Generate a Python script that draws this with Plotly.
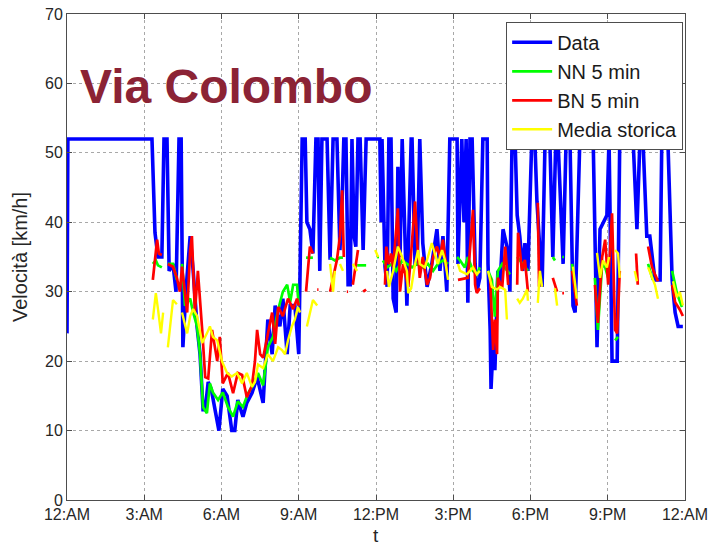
import pandas as pd
import plotly.graph_objects as go

# Speeds on Via Colombo over one day: (minutes after midnight, km/h).
# None splits a series where no estimate was produced.
DATA = [(0, 24), (2, 52), (198, 52), (205, 38.5), (212, 35), (221, 35), (226, 52), (233, 52),
        (238, 33), (247, 34), (254, 30), (261, 52), (266, 52), (270, 22), (277, 30), (287, 38),
        (294, 33), (303, 25), (310, 21), (317, 13), (322, 13), (329, 17), (336, 16), (345, 13),
        (354, 10), (363, 16), (373, 15), (384, 10), (391, 10), (398, 14.4), (410, 12), (419, 14),
        (431, 15.4), (443, 17.7), (457, 14), (468, 26), (478, 21), (485, 28), (496, 25), (503, 29),
        (513, 21), (520, 28), (531, 28), (540, 21), (548, 52), (555, 52), (559, 40), (566, 39),
        (573, 35.5), (580, 52), (585, 52), (589, 33), (594, 52), (606, 52), (613, 34.6), (620, 52),
        (629, 52), (636, 36), (641, 43), (645, 52), (650, 52), (655, 31), (660, 31), (664, 52),
        (669, 38), (673, 36.5), (678, 52), (683, 52), (690, 36), (697, 52), (729, 52), (732, 40),
        (734, 52), (741, 33.6), (746, 30.7), (750, 52), (755, 52), (760, 29), (767, 27), (771, 48),
        (776, 35), (781, 52), (792, 28), (802, 52), (804, 52), (811, 34), (816, 34), (822, 52),
        (829, 37), (839, 30.7), (850, 34), (862, 39), (869, 33), (876, 38), (885, 30), (892, 52),
        (909, 52), (911, 34), (920, 52), (925, 40), (930, 52), (934, 28.4), (939, 52), (944, 52),
        (951, 34), (955, 30), (962, 32), (969, 52), (979, 52), (981, 34), (986, 24.5), (988, 16),
        (993, 22.6), (997, 18.7), (1004, 33), (1009, 31), (1016, 39), (1025, 36.5), (1032, 30),
        (1037, 52), (1044, 52), (1049, 41), (1055, 38), (1062, 33), (1067, 37), (1074, 33),
        (1083, 52), (1090, 52), (1095, 43), (1107, 30.7), (1114, 52), (1125, 52), (1132, 35),
        (1139, 52), (1144, 52), (1156, 34), (1163, 52), (1172, 52), (1179, 28), (1184, 27),
        (1195, 52), (1226, 52), (1235, 22), (1242, 39), (1249, 40), (1258, 41), (1263, 52),
        (1270, 20), (1282, 20), (1288, 52), (1319, 52), (1328, 39), (1335, 52), (1342, 52),
        (1351, 38), (1358, 38), (1370, 31.7), (1382, 31.7), (1386, 52), (1400, 52), (1410, 31.7),
        (1417, 27), (1424, 25), (1435, 25)]

NN_5MIN = [(200, 34), (207, 34.5), (212, 33.8), (221, 33.5), None,
           (235, 34), (247, 34), (256, 31.7), None,
           (268, 34), (275, 28), (287, 29), (294, 27), (303, 25), (310, 21), (317, 13.4),
           (326, 12.5), (333, 16.8), (340, 15.5), (352, 14.4), (363, 15.5), (375, 13.4), (387, 12),
           (398, 14.2), (410, 13.4), (422, 15.4), (433, 16.5), (445, 18.3), (457, 16.5), (468, 22),
           (480, 23.5), (492, 27.4), (503, 30), (513, 31), (520, 28.5), (527, 31), (536, 31),
           (540, 28), None,
           (557, 34.9), (566, 34.9), (573, 34.9), None,
           (613, 34.9), (624, 34.5), (636, 34.9), (643, 34.9), None,
           (676, 33.8), (683, 33.8), (690, 33.8), (697, 33.8), None,
           (722, 35), (727, 35), None,
           (736, 34.5), (746, 33.5), (757, 34), (767, 33), (781, 34.5), (792, 34), (804, 33.5),
           (816, 34), (829, 33.5), (841, 34), (853, 33), (864, 34), (876, 34.5), (888, 34), None,
           (909, 35), (916, 34.5), (927, 33.5), (934, 35), (946, 33), (955, 32.5), (962, 33.5), None,
           (981, 33), (990, 31.7), (997, 26.4), (1004, 33), (1014, 34), (1025, 33), (1032, 32.5), None,
           (1049, 35), (1055, 34.5), (1067, 33.5), (1074, 33), None,
           (1098, 35), (1102, 35), None,
           (1132, 35), (1137, 34.5), None,
           (1154, 35), (1158, 35), None,
           (1177, 34), (1184, 30), None,
           (1230, 32), (1237, 24.5), (1247, 34), (1254, 33.5), (1261, 32), None,
           (1277, 23), (1284, 23.5), None,
           (1354, 34), (1365, 31.7), None,
           (1410, 33), (1421, 29.8), (1433, 27.8)]

BN_5MIN = [(200, 31.7), (210, 37.5), (214, 35.5), (221, 35.3), None,
           (235, 34), (247, 33.6), (256, 32), (263, 30), (268, 33.6), (280, 27), (287, 36),
           (291, 38), (298, 27), (305, 33), (315, 24.5), (322, 17.7), (329, 17.5), (338, 24.5),
           (350, 20), (356, 23.5), (363, 16.8), (375, 18.3), (387, 15.4), (398, 18.3), (408, 18),
           (419, 14.8), (431, 16.5), (438, 20), (443, 24.5), (450, 21), (457, 20.5), (466, 23.5),
           (478, 27), (485, 22.5), (492, 27.8), (503, 26.5), (515, 29), (527, 27.5), (536, 29),
           (540, 28), None,
           (557, 30), (566, 36.5), (573, 35.5), None,
           (583, 30.3), (586, 30.3), None,
           (613, 30), (629, 34.6), (636, 38), (641, 44.6), (645, 35), None,
           (652, 30), (655, 30), None,
           (666, 31), (671, 33), (678, 36), None,
           (690, 30), (697, 30.3), None,
           (741, 31), (744, 36.5), (750, 34), (755, 35.5), (760, 33.5), (771, 42), (776, 30),
           (783, 34), (795, 30.7), (800, 34), (811, 43), (816, 37), (822, 32), (829, 35), (839, 31),
           (846, 32), (853, 35), (862, 36.5), (869, 35), (876, 37.5), (885, 33), None,
           (911, 31.7), (934, 32), (946, 41.8), (951, 31), (955, 29.8), (962, 30.5), None,
           (986, 32), (990, 24.5), (993, 21.6), (997, 26), (1002, 21), (1004, 32), (1014, 30.5),
           (1021, 36.5), (1028, 31), None,
           (1049, 31), (1051, 38.5), (1060, 33), (1067, 34.6), (1074, 30), None,
           (1097, 42.8), (1100, 30.7), None,
           (1132, 32), (1142, 30), None,
           (1154, 29.8), (1158, 29.8), None,
           (1177, 33), (1188, 28), None,
           (1230, 31), (1237, 25.5), (1247, 35), (1254, 37.5), (1261, 31), (1270, 41.3),
           (1277, 24.5), (1282, 24), (1288, 33), None,
           (1326, 35.5), (1330, 31), None,
           (1354, 36.5), (1363, 33.6), (1370, 32.5), (1377, 31.5), None,
           (1410, 31), (1417, 28.5), (1428, 27.4), (1435, 26.5)]

MEDIA_STORICA = [(200, 26), (207, 29.8), (212, 27.5), (219, 24), (224, 27), None,
                 (235, 22), (245, 27.8), (247, 28.8), (256, 28.2), None,
                 (268, 27), (280, 24), (287, 26.5), (294, 27.5), (303, 26.5), (315, 22.6),
                 (326, 24), (333, 25), (340, 23.5), (350, 23), (361, 20), (373, 18.3), (384, 17.8),
                 (396, 18.3), (408, 16.8), (419, 18.3), (431, 16.3), (438, 17), (445, 19.5),
                 (457, 19), (468, 21), (480, 20), (492, 22), (501, 21.6), (508, 21), (515, 23),
                 (524, 25), (531, 26), (538, 27.8), (543, 27), None,
                 (559, 25), (571, 28), (573, 28.8), (583, 28), None,
                 (613, 34), (620, 30), (624, 33), None,
                 (636, 34), (643, 33), None,
                 (666, 34), (676, 33), None,
                 (718, 36), (725, 35), None,
                 (746, 33), (750, 30.7), (760, 33), (771, 36.5), (781, 35), (792, 33), (795, 29.8),
                 (802, 30.5), (811, 34), (818, 36), (822, 34), (834, 33.5), (841, 35), (850, 37),
                 (857, 35.5), (864, 34), (874, 36), (881, 34.5), (888, 31.7), None,
                 (911, 34), (916, 33), (932, 32.5), (946, 33.5), (955, 32.5), (962, 33), None,
                 (981, 33), (990, 30.7), (1002, 30.3), (1009, 30.7), (1021, 30.3), (1025, 26), None,
                 (1049, 29), (1055, 28.4), (1062, 29), (1072, 30.3), (1074, 28.7), None,
                 (1097, 28.4), (1102, 33), (1107, 30.7), None,
                 (1137, 30.5), (1142, 28), None,
                 (1179, 33.6), (1188, 29), None,
                 (1235, 35.6), (1242, 32), (1249, 34.5), (1258, 33.5), (1263, 35), None,
                 (1277, 36), (1284, 35.5), (1288, 32), None,
                 (1323, 33), (1328, 31.5), None,
                 (1354, 33.5), (1363, 32), (1370, 31), (1377, 29), None,
                 (1412, 31.5), (1421, 29.2), (1428, 30), (1435, 28)]

SERIES = [("Data", DATA, "#0000ff", 3.6),
          ("NN 5 min", NN_5MIN, "#00ff00", 2.7),
          ("BN 5 min", BN_5MIN, "#ff0000", 2.7),
          ("Media storica", MEDIA_STORICA, "#ffff00", 2.4)]

Y_TICKS = [0, 10, 20, 30, 40, 50, 60, 70]
DAY = pd.Timestamp("2013-01-01")


def split(points):
    xs, ys = [], []
    for p in points:
        if p is None:
            xs.append(None)
            ys.append(None)
        else:
            xs.append(DAY + pd.Timedelta(minutes=p[0]))
            ys.append(p[1])
    return xs, ys


fig = go.Figure()
for name, pts, color, width in SERIES:
    xs, ys = split(pts)
    fig.add_trace(go.Scatter(x=xs, y=ys, mode="lines", name=name,
                             line=dict(color=color, width=width),
                             connectgaps=False))

font = "Liberation Sans, Arial, sans-serif"
axis_common = dict(showline=True, linecolor="#4d4d4d", linewidth=1, mirror="ticks",
                   ticks="inside", ticklen=5, tickcolor="#4d4d4d",
                   showgrid=True, gridcolor="#a8a8a8", griddash="dot", gridwidth=1,
                   zeroline=False, automargin=False, ticklabeloverflow="allow",
                   tickfont=dict(family=font, size=16, color="#262626"))

fig.update_xaxes(range=[DAY, DAY + pd.Timedelta(days=1)], type="date",
                 dtick=3 * 3600 * 1000, tick0=DAY, tickformat="%-I:%p",
                 ticklabelstandoff=0,
                 **axis_common)
fig.update_yaxes(range=[0, 70], tickvals=Y_TICKS,
                 title=dict(text="Velocità [km/h]", font=dict(family=font, size=20, color="#262626"),
                            standoff=12),
                 **axis_common)

# horizontal axis label sits at the foot of the page, below the tick labels
fig.add_annotation(text="t", xref="paper", yref="paper", x=0.5, y=0, yshift=-47,
                   xanchor="center", yanchor="bottom", showarrow=False, borderpad=0,
                   font=dict(family=font, size=19, color="#262626"))

fig.add_annotation(text="<b>Via Colombo</b>", xref="paper", yref="paper",
                   x=0.257, y=0.850, xanchor="center", yanchor="middle", showarrow=False,
                   font=dict(family=font, size=48, color="#8b2335"))

fig.update_layout(
    width=708, height=547,
    margin=dict(l=67, r=23, t=14, b=47),
    paper_bgcolor="white", plot_bgcolor="white",
    showlegend=True,
    legend=dict(x=0.997, y=0.984, xanchor="right", yanchor="top",
                bgcolor="white", bordercolor="#4d4d4d", borderwidth=1,
                font=dict(family=font, size=20, color="#1a1a1a"),
                tracegroupgap=0, itemwidth=40),
)

fig.write_html("out.html")
